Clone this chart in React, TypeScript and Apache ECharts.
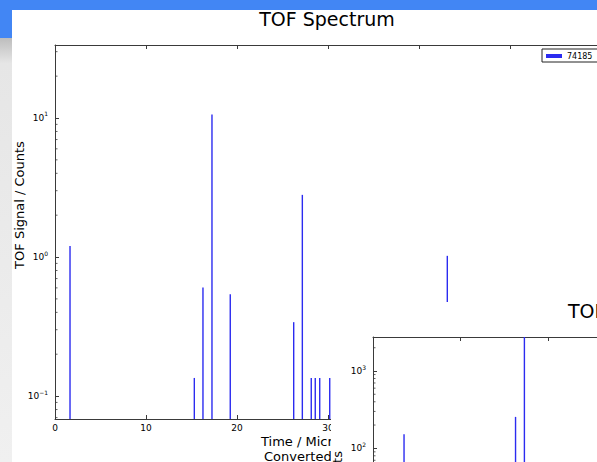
import React, { useEffect, useRef } from "react";
import * as echarts from "echarts";

// ---- data ----
const SERIES_NAME = "74185";
const MAIN_X = [1.65, 15.31, 16.26, 17.25, 19.26, 26.23, 27.18, 28.16, 28.6, 29.09, 30.19, 43.11];
const MAIN_Y = [1.2, 0.135, 0.605, 10.6, 0.54, 0.34, 2.8, 0.135, 0.135, 0.135, 0.135, 1.02];
const SUB_X = [3.54, 16.26, 17.27];
const SUB_Y = [152, 255, 3000];
const X_MIN = 0;
const X_MAX = 60;
const X_INTERVAL = 10;
const MAIN_VISIBLE_X_LABEL_MAX = 30;
const MAIN_Y_MIN = 0.0684;
const MAIN_Y_MAX = 33.5;
const SUB_Y_MIN = 1;
const SUB_Y_MAX = 2754;
const MAIN_MINOR_TICKS = [0.07, 0.08, 0.09, 0.2, 0.3, 0.4, 0.5, 0.6, 0.7, 0.8, 0.9, 2, 3, 4, 5, 6, 7, 8, 9, 20, 30];
const SUB_MINOR_TICKS = [2, 3, 4, 5, 6, 7, 8, 9, 20, 30, 40, 50, 60, 70, 80, 90, 200, 300, 400, 500, 600, 700, 800, 900, 2000];

const TITLE = "TOF Spectrum";
const Y_NAME = "TOF Signal / Counts";
const X_NAME_LINE1 = "Time / Microseconds";
const X_NAME_LINE2 = "Converted";

const FONT = "DejaVu Sans";
const STEM = "#2b2bf0";
const AXIS = "#3a3a3a";

const logLabel = (v: number) => {
  const e = Math.log10(v);
  const r = Math.round(e);
  if (Math.abs(e - r) > 1e-6) return "";
  return `{b|10}{s|${r < 0 ? "\u2212" + -r : r}}`;
};

const richLabel = {
  b: { fontSize: 9, color: "#000", lineHeight: 14, fontFamily: FONT },
  s: { fontSize: 6, color: "#000", lineHeight: 6, verticalAlign: "top", fontFamily: FONT },
};

function stemSeries(xs: number[], ys: number[], yMin: number, name: string) {
  return {
    type: "custom",
    name,
    clip: true,
    itemStyle: { color: STEM },
    data: xs.map((x, i) => [x, ys[i]]),
    renderItem: (params: any, api: any) => {
      const x = api.value(0);
      const y = api.value(1);
      const top = api.coord([x, y]);
      const bot = api.coord([x, yMin]);
      return {
        type: "line",
        shape: { x1: top[0], y1: top[1], x2: bot[0], y2: bot[1] },
        style: { stroke: STEM, lineWidth: 1.4 },
      };
    },
  };
}

function minorTickSeries(ticks: number[]) {
  return {
    type: "custom",
    name: "minor",
    silent: true,
    data: ticks.map((v) => [X_MIN, v]),
    renderItem: (params: any, api: any) => {
      const p = api.coord([api.value(0), api.value(1)]);
      return {
        type: "line",
        shape: { x1: p[0], y1: p[1], x2: p[0] + 2.5, y2: p[1] },
        style: { stroke: AXIS, lineWidth: 0.8 },
      };
    },
  };
}

function xAxes(showBottomLabels: boolean, labelMax: number) {
  const common = {
    type: "value",
    min: X_MIN,
    max: X_MAX,
    interval: X_INTERVAL,
    gridIndex: 0,
    axisLine: { show: true, lineStyle: { color: AXIS, width: 1 } },
    axisTick: { show: true, inside: true, length: 4, lineStyle: { color: AXIS } },
    splitLine: { show: false },
  };
  return [
    {
      ...common,
      position: "bottom",
      axisLabel: {
        show: showBottomLabels,
        fontSize: 9,
        color: "#000",
        margin: 4,
        fontFamily: FONT,
        formatter: (v: number) => (v <= labelMax ? String(v) : ""),
      },
    },
    { ...common, position: "top", axisLabel: { show: false } },
  ];
}

function yAxis(min: number, max: number) {
  return {
    type: "log",
    logBase: 10,
    min,
    max,
    axisLine: { show: true, lineStyle: { color: AXIS, width: 1 } },
    axisTick: { show: true, inside: true, length: 4, lineStyle: { color: AXIS } },
    axisLabel: { formatter: logLabel, rich: richLabel, margin: 7 },
    splitLine: { show: false },
  };
}

export default function App() {
  const mainRef = useRef<HTMLDivElement>(null);
  const subRef = useRef<HTMLDivElement>(null);

  useEffect(() => {
    if (!mainRef.current || !subRef.current) return;
    const main = echarts.init(mainRef.current, undefined, { renderer: "svg" });
    const sub = echarts.init(subRef.current, undefined, { renderer: "svg" });

    main.setOption({
      animation: false,
      textStyle: { fontFamily: FONT },
      legend: {
        data: [SERIES_NAME],
        left: 542,
        top: 49,
        orient: "horizontal",
        icon: "rect",
        itemWidth: 16,
        itemHeight: 4,
        itemGap: 4,
        padding: [3, 9, 2, 4],
        borderColor: "#222",
        borderWidth: 1,
        borderRadius: 0,
        backgroundColor: "#fff",
        textStyle: { fontSize: 8, color: "#000", fontFamily: FONT },
      },
      grid: { left: 55, top: 45, width: 546, height: 374 },
      xAxis: xAxes(true, MAIN_VISIBLE_X_LABEL_MAX),
      yAxis: yAxis(MAIN_Y_MIN, MAIN_Y_MAX),
      graphic: [
        { type: "rect", shape: { x: 0, y: 0, width: 640, height: 10 }, style: { fill: "#4286f4" } },
        { type: "rect", shape: { x: 0, y: 10, width: 12, height: 28 }, style: { fill: "#4286f4" } },
        {
          type: "rect",
          shape: { x: 0, y: 38, width: 12, height: 424 },
          style: {
            fill: new echarts.graphic.LinearGradient(0, 0, 0, 1, [
              { offset: 0, color: "#bdbdbd" },
              { offset: 0.06, color: "#e6e6e6" },
              { offset: 1, color: "#f0f0f0" },
            ]),
          },
        },
        {
          type: "text",
          x: 327,
          y: 18.5,
          style: { text: TITLE, fontSize: 19, fontFamily: FONT, fill: "#000", textAlign: "center", textVerticalAlign: "middle" },
        },
        {
          type: "text",
          x: 19,
          y: 205,
          rotation: Math.PI / 2,
          style: { text: Y_NAME, fontSize: 13, fontFamily: FONT, fill: "#000", textAlign: "center", textVerticalAlign: "middle" },
        },
        {
          type: "text",
          x: 261,
          y: 441,
          style: {
            text: X_NAME_LINE1,
            fontSize: 13,
            fontFamily: FONT,
            fill: "#000",
            textAlign: "left",
            textVerticalAlign: "middle",
            width: 73,
            overflow: "truncate",
            ellipsis: "",
          },
        },
        {
          type: "text",
          x: 264,
          y: 456.5,
          style: {
            text: X_NAME_LINE2,
            fontSize: 13,
            fontFamily: FONT,
            fill: "#000",
            textAlign: "left",
            textVerticalAlign: "middle",
          },
        },
      ],
      series: [stemSeries(MAIN_X, MAIN_Y, MAIN_Y_MIN, SERIES_NAME), minorTickSeries(MAIN_MINOR_TICKS)],
    });

    sub.setOption({
      animation: false,
      textStyle: { fontFamily: FONT },
      grid: { left: 42, top: 35, width: 526, height: 265.9 },
      xAxis: xAxes(false, X_MAX),
      yAxis: yAxis(SUB_Y_MIN, SUB_Y_MAX),
      graphic: [
        {
          type: "text",
          x: 237,
          y: 9,
          style: { text: TITLE, fontSize: 19, fontFamily: FONT, fill: "#000", textAlign: "left", textVerticalAlign: "middle" },
        },
        {
          type: "text",
          x: 6.5,
          y: 149,
          rotation: Math.PI / 2,
          style: { text: Y_NAME, fontSize: 13, fontFamily: FONT, fill: "#000", textAlign: "right", textVerticalAlign: "middle" },
        },
      ],
      series: [stemSeries(SUB_X, SUB_Y, SUB_Y_MIN, SERIES_NAME), minorTickSeries(SUB_MINOR_TICKS)],
    });

    return () => {
      main.dispose();
      sub.dispose();
    };
  }, []);

  return (
    <div
      style={{
        position: "fixed",
        left: 0,
        top: 0,
        width: 597,
        height: 462,
        overflow: "hidden",
        background: "#fff",
      }}
    >
      <div ref={mainRef} style={{ position: "absolute", left: 0, top: 0, width: 640, height: 462 }} />
      <div ref={subRef} style={{ position: "absolute", left: 331, top: 302, width: 620, height: 320, background: "#fff" }} />
    </div>
  );
}
